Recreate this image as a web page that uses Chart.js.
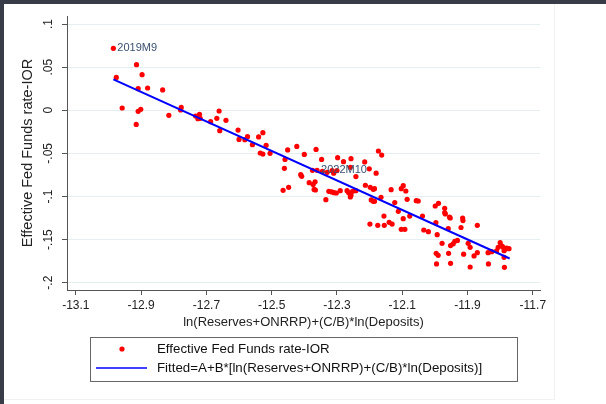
<!DOCTYPE html>
<html>
<head>
<meta charset="utf-8">
<script src="https://cdn.jsdelivr.net/npm/chart.js@4.4.1/dist/chart.umd.min.js"></script>
<style>
  html, body { margin: 0; padding: 0; background: #ffffff; }
  #frame { position: absolute; left: 0; top: 0; width: 606px; height: 404px; background: #ffffff; }
  #topbar { position: absolute; left: 0; top: 0; width: 606px; height: 4px; background: #373c48; }
  #leftbar { position: absolute; left: 0; top: 0; width: 4px; height: 404px; background: #373c48; }
  #panel { position: absolute; left: 4px; top: 4px; width: 550px; height: 395px; border-right: 1px solid #f1f1f1; border-bottom: 1px solid #f1f1f1; }
  canvas { position: absolute; left: 0; top: 0; }
</style>
</head>
<body>
<div id="frame"><div id="panel"></div><div id="topbar"></div><div id="leftbar"></div></div>
<canvas id="chart" width="606" height="404"></canvas>
<script>
// scatter: ln(Reserves+ONRRP)+(C/B)*ln(Deposits) vs EFFR-IOR
const xVals = [
  -12.985, -12.976, -12.958, -12.914, -12.897, -12.909, -12.880, -12.834, -12.909, -12.901,
  -12.915, -12.815, -12.777, -12.779, -12.733, -12.721, -12.726, -12.719, -12.687, -12.668,
  -12.661, -12.640, -12.659, -12.603, -12.600, -12.582, -12.574, -12.559, -12.540, -12.527,
  -12.517, -12.535, -12.527, -12.505, -12.459, -12.451, -12.423, -12.461, -12.411, -12.408,
  -12.400, -12.364, -12.347, -12.465, -12.448, -12.385, -12.373, -12.367, -12.370, -12.366,
  -12.375, -12.361, -12.345, -12.330, -12.315, -12.300, -12.310, -12.298, -12.280, -12.257,
  -12.259, -12.242, -12.215, -12.201, -12.180, -12.173, -12.163, -12.334, -12.325, -12.316,
  -12.309, -12.302, -12.290, -12.269, -12.264, -12.257, -12.259, -12.252, -12.242, -12.213,
  -12.198, -12.189, -12.185, -12.195, -12.189, -12.185, -12.165, -12.199, -12.175, -12.156,
  -12.155, -12.140, -12.131, -12.134, -12.123, -12.112, -12.103, -12.097, -12.089, -12.085,
  -12.103, -12.092, -12.097, -12.077, -12.057, -12.051, -12.038, -12.034, -12.020, -11.999,
  -11.989, -11.997, -11.993, -11.978, -11.996, -11.990, -11.995, -11.970, -11.970, -11.968,
  -11.955, -11.953, -11.959, -11.958, -11.952, -11.952, -11.944, -11.939, -11.931, -11.920,
  -11.915, -11.914, -11.912, -11.898, -11.892, -11.892, -11.880, -11.870, -11.870, -11.837,
  -11.826, -11.836, -11.806, -11.800, -11.794, -11.791, -11.788, -11.784, -11.780, -11.788,
  -11.787, -11.773, -11.811
];
const yVals = [
  0.0718, 0.0380, 0.0026, 0.0528, 0.0412, 0.0250, 0.0258, 0.0235, -0.0013, 0.0010,
  -0.0164, -0.0059, 0.0033, 0.0003, -0.0067, -0.0048, -0.0098, -0.0094, -0.0133, -0.0094,
  -0.0009, -0.0117, -0.0237, -0.0230, -0.0338, -0.0341, -0.0307, -0.0399, -0.0310, -0.0260,
  -0.0407, -0.0496, -0.0508, -0.0500, -0.0570, -0.0460, -0.0420, -0.0674, -0.0747, -0.0767,
  -0.0512, -0.0454, -0.0570, -0.0929, -0.0894, -0.0840, -0.0860, -0.0830, -0.0918, -0.0925,
  -0.0697, -0.0697, -0.0710, -0.0720, -0.0700, -0.0700, -0.0730, -0.0550, -0.0597, -0.0562,
  -0.0662, -0.0770, -0.0600, -0.0680, -0.0730, -0.0473, -0.0520, -0.1037, -0.0940, -0.0948,
  -0.0956, -0.0960, -0.0933, -0.0933, -0.0956, -0.0987, -0.1006, -0.0941, -0.0933, -0.0870,
  -0.0894, -0.0917, -0.0910, -0.1040, -0.1057, -0.1057, -0.1010, -0.1320, -0.1335, -0.1227,
  -0.1335, -0.1300, -0.1320, -0.0921, -0.1070, -0.1173, -0.0910, -0.0875, -0.0937, -0.1033,
  -0.1381, -0.1381, -0.1258, -0.1227, -0.1049, -0.1053, -0.1227, -0.1389, -0.1408, -0.1111,
  -0.1080, -0.1304, -0.1443, -0.1544, -0.1660, -0.1683, -0.1783, -0.1138, -0.1188, -0.1203,
  -0.1240, -0.1250, -0.1374, -0.1660, -0.1776, -0.1570, -0.1550, -0.1520, -0.1510, -0.1360,
  -0.1250, -0.1280, -0.1670, -0.1544, -0.1590, -0.1818, -0.1690, -0.1652, -0.1335, -0.1652,
  -0.1640, -0.1783, -0.1590, -0.1536, -0.1575, -0.1590, -0.1630, -0.1610, -0.1598, -0.1706,
  -0.1822, -0.1606, -0.1630
];

// fitted line end points
const fitX = [-12.985, -11.771];
const fitY = [0.0358, -0.1720];

// marker labels
const labelText = ["2019M9", "2022M10"];
const labelX = [-12.985, -12.361];
const labelY = [0.0718, -0.0697];

// axis ticks
const xTicks = [-13.1, -12.9, -12.7, -12.5, -12.3, -12.1, -11.9, -11.7];
const xTickLabels = ["-13.1", "-12.9", "-12.7", "-12.5", "-12.3", "-12.1", "-11.9", "-11.7"];
const yTicks = [-0.2, -0.15, -0.1, -0.05, 0, 0.05, 0.1];
const yTickLabels = ["-.2", "-.15", "-.1", "-.05", "0", ".05", ".1"];

const seriesName = "Effective Fed Funds rate-IOR";
const fitName = "Fitted=A+B*[ln(Reserves+ONRRP)+(C/B)*ln(Deposits)]";
const xTitle = "ln(Reserves+ONRRP)+(C/B)*ln(Deposits)";
const yTitle = "Effective Fed Funds rate-IOR";

const FONT = '"Liberation Sans", Arial, sans-serif';
const axisColor = "#555555";

//Labels next to the two marked months
const markerLabels = {
  id: "markerLabels",
  afterDatasetsDraw(chart) {
    const ctx = chart.ctx;
    const xs = chart.scales.x;
    const ys = chart.scales.y;
    ctx.save();
    ctx.font = "11px " + FONT;
    ctx.fillStyle = "#3a5070";
    ctx.textBaseline = "middle";
    ctx.textAlign = "left";
    labelText.forEach((t, i) => {
      ctx.fillText(t, xs.getPixelForValue(labelX[i]) + 4, ys.getPixelForValue(labelY[i]));
    });
    ctx.restore();
  },
};

//Boxed legend, one entry per row
const boxedLegend = {
  id: "boxedLegend",
  afterDraw(chart) {
    const ctx = chart.ctx;
    const area = chart.chartArea;
    const sets = chart.data.datasets;
    const w = 427;
    const h = 44;
    const left = Math.round((area.left + area.right) / 2 - w / 2);
    const top = Math.round(area.bottom + 47);
    ctx.save();
    ctx.strokeStyle = "#666666";
    ctx.lineWidth = 1;
    ctx.strokeRect(left + 0.5, top + 0.5, w, h);

    ctx.font = "13.3px " + FONT;
    ctx.fillStyle = "#111111";
    ctx.textBaseline = "middle";
    const row1 = top + 12;
    const row2 = top + 31;
    const textX = left + 67;

    ctx.beginPath();
    ctx.fillStyle = sets[0].backgroundColor;
    ctx.arc(left + 32, row1, 2.6, 0, Math.PI * 2);
    ctx.fill();

    ctx.strokeStyle = sets[1].borderColor;
    ctx.lineWidth = 1.5;
    ctx.beginPath();
    ctx.moveTo(left + 6, row2);
    ctx.lineTo(left + 57, row2);
    ctx.stroke();

    ctx.fillStyle = "#111111";
    ctx.fillText(sets[0].label, textX, row1);
    ctx.fillText(sets[1].label, textX, row2);
    ctx.restore();
  },
};

const ctx = document.getElementById("chart").getContext("2d");
const myChart = new Chart(ctx, {
  type: "scatter",
  data: {
    datasets: [
      {
        label: seriesName,
        data: xVals.map((x, i) => ({ x: x, y: yVals[i] })),
        backgroundColor: "#ff0000",
        borderColor: "#ff0000",
        pointRadius: 2.6,
        pointBorderWidth: 0,
        order: 1,
      },
      {
        label: fitName,
        data: fitX.map((x, i) => ({ x: x, y: fitY[i] })),
        showLine: true,
        borderColor: "#0000ff",
        backgroundColor: "#0000ff",
        borderWidth: 2,
        pointRadius: 0,
        order: 0,
      },
    ],
  },
  options: {
    responsive: false,
    animation: false,
    devicePixelRatio: 1,
    layout: { padding: { left: 10, top: 16, right: 66, bottom: 74 } },
    plugins: {
      legend: { display: false },
      tooltip: { enabled: false },
    },
    scales: {
      x: {
        type: "linear",
        min: -13.127,
        max: -11.678,
        afterBuildTicks: (s) => {
          s.ticks = xTicks.map((v) => ({ value: v }));
        },
        afterFit: (s) => {
          s.height = 40;
        },
        grid: { drawOnChartArea: false, drawTicks: true, tickLength: 5, tickColor: axisColor },
        border: { color: axisColor, width: 1 },
        ticks: {
          autoSkip: false,
          maxRotation: 0,
          padding: 3,
          color: "#222222",
          font: { family: FONT, size: 12 },
          callback: (v, i) => xTickLabels[i],
        },
        title: {
          display: true,
          text: xTitle,
          color: "#222222",
          font: { family: FONT, size: 13 },
          padding: 0,
        },
      },
      y: {
        type: "linear",
        min: -0.2085,
        max: 0.1093,
        afterBuildTicks: (s) => {
          s.ticks = yTicks.map((v) => ({ value: v }));
        },
        afterFit: (s) => {
          s.width = 57;
        },
        grid: { color: "#e5eef0", lineWidth: 1, tickLength: 5, tickColor: axisColor },
        border: { color: axisColor, width: 1 },
        ticks: {
          autoSkip: false,
          minRotation: 90,
          maxRotation: 90,
          crossAlign: "center",
          padding: 3,
          color: "#222222",
          font: { family: FONT, size: 12 },
          callback: (v, i) => yTickLabels[i],
        },
        title: {
          display: true,
          text: yTitle,
          color: "#222222",
          font: { family: FONT, size: 14.5 },
          padding: { top: 9, bottom: 0 },
        },
      },
    },
  },
  plugins: [markerLabels, boxedLegend],
});
</script>
</body>
</html>
